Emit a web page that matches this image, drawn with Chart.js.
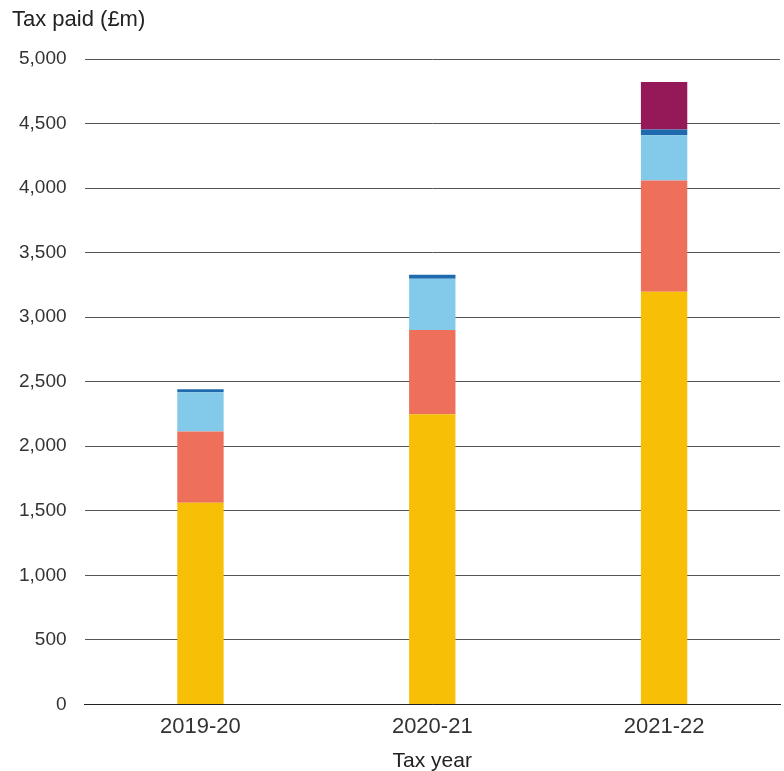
<!DOCTYPE html>
<html>
<head>
<meta charset="utf-8">
<script src="https://cdn.jsdelivr.net/npm/chart.js@4"></script>
<style>
html,body{margin:0;padding:0;background:#fff;}
#wrap{width:784px;height:771px;}
</style>
</head>
<body>
<div id="wrap"><canvas id="c" width="784" height="771"></canvas></div>
<script>
const categories = ["2019-20", "2020-21", "2021-22"];
const seriesNames = ["Component 1", "Component 2", "Component 3", "Component 4", "Component 5"];
const series1 = [1563, 2247, 3196];
const series2 = [552, 653, 863];
const series3 = [303, 397, 350];
const series4 = [24, 31, 44];
const series5 = [null, null, 368];
const seriesColors = ["#F8BF07", "#EE6F5A", "#83C9E9", "#1E6AAE", "#951858"];
const yTicks = [0, 500, 1000, 1500, 2000, 2500, 3000, 3500, 4000, 4500, 5000];
const yTitle = "Tax paid (£m)";
const xTitle = "Tax year";

const allSeries = [series1, series2, series3, series4, series5];
const FONT = "'Liberation Sans', Arial, Helvetica, sans-serif";

const yTitlePlugin = {
  id: 'yTitleTop',
  afterDraw(chart) {
    const ctx = chart.ctx;
    ctx.save();
    ctx.font = "22px " + FONT;
    ctx.fillStyle = '#222';
    ctx.textAlign = 'left';
    ctx.textBaseline = 'middle';
    ctx.fillText(yTitle, 12, 20);
    ctx.restore();
  }
};

new Chart(document.getElementById('c'), {
  type: 'bar',
  data: {
    labels: categories,
    datasets: allSeries.map((d, i) => ({
      label: seriesNames[i],
      data: d,
      backgroundColor: seriesColors[i],
      borderWidth: 0,
      categoryPercentage: 0.8,
      barPercentage: 0.25
    }))
  },
  plugins: [yTitlePlugin],
  options: {
    responsive: false,
    animation: false,
    devicePixelRatio: 1,
    layout: { padding: { left: 1, right: 4, top: 59, bottom: -3 } },
    plugins: {
      legend: { display: false },
      tooltip: { enabled: false },
      title: { display: false }
    },
    scales: {
      x: {
        stacked: true,
        grid: { display: false, drawTicks: false },
        border: { display: true, color: '#222', width: 1 },
        ticks: { color: '#333', font: { family: FONT, size: 22 }, padding: 9 },
        title: { display: true, text: xTitle, color: '#222', font: { family: FONT, size: 21 }, padding: { top: 0, bottom: 0 } }
      },
      y: {
        stacked: true,
        min: 0,
        max: 5000,
        afterBuildTicks: (axis) => { axis.ticks = yTicks.map(v => ({ value: v })); },
        grid: { color: '#555', lineWidth: 1, drawTicks: false },
        border: { display: false },
        ticks: {
          color: '#333',
          font: { family: FONT, size: 19 },
          padding: 18,
          callback: (v) => v.toLocaleString('en-GB')
        }
      }
    }
  }
});
</script>
</body>
</html>
